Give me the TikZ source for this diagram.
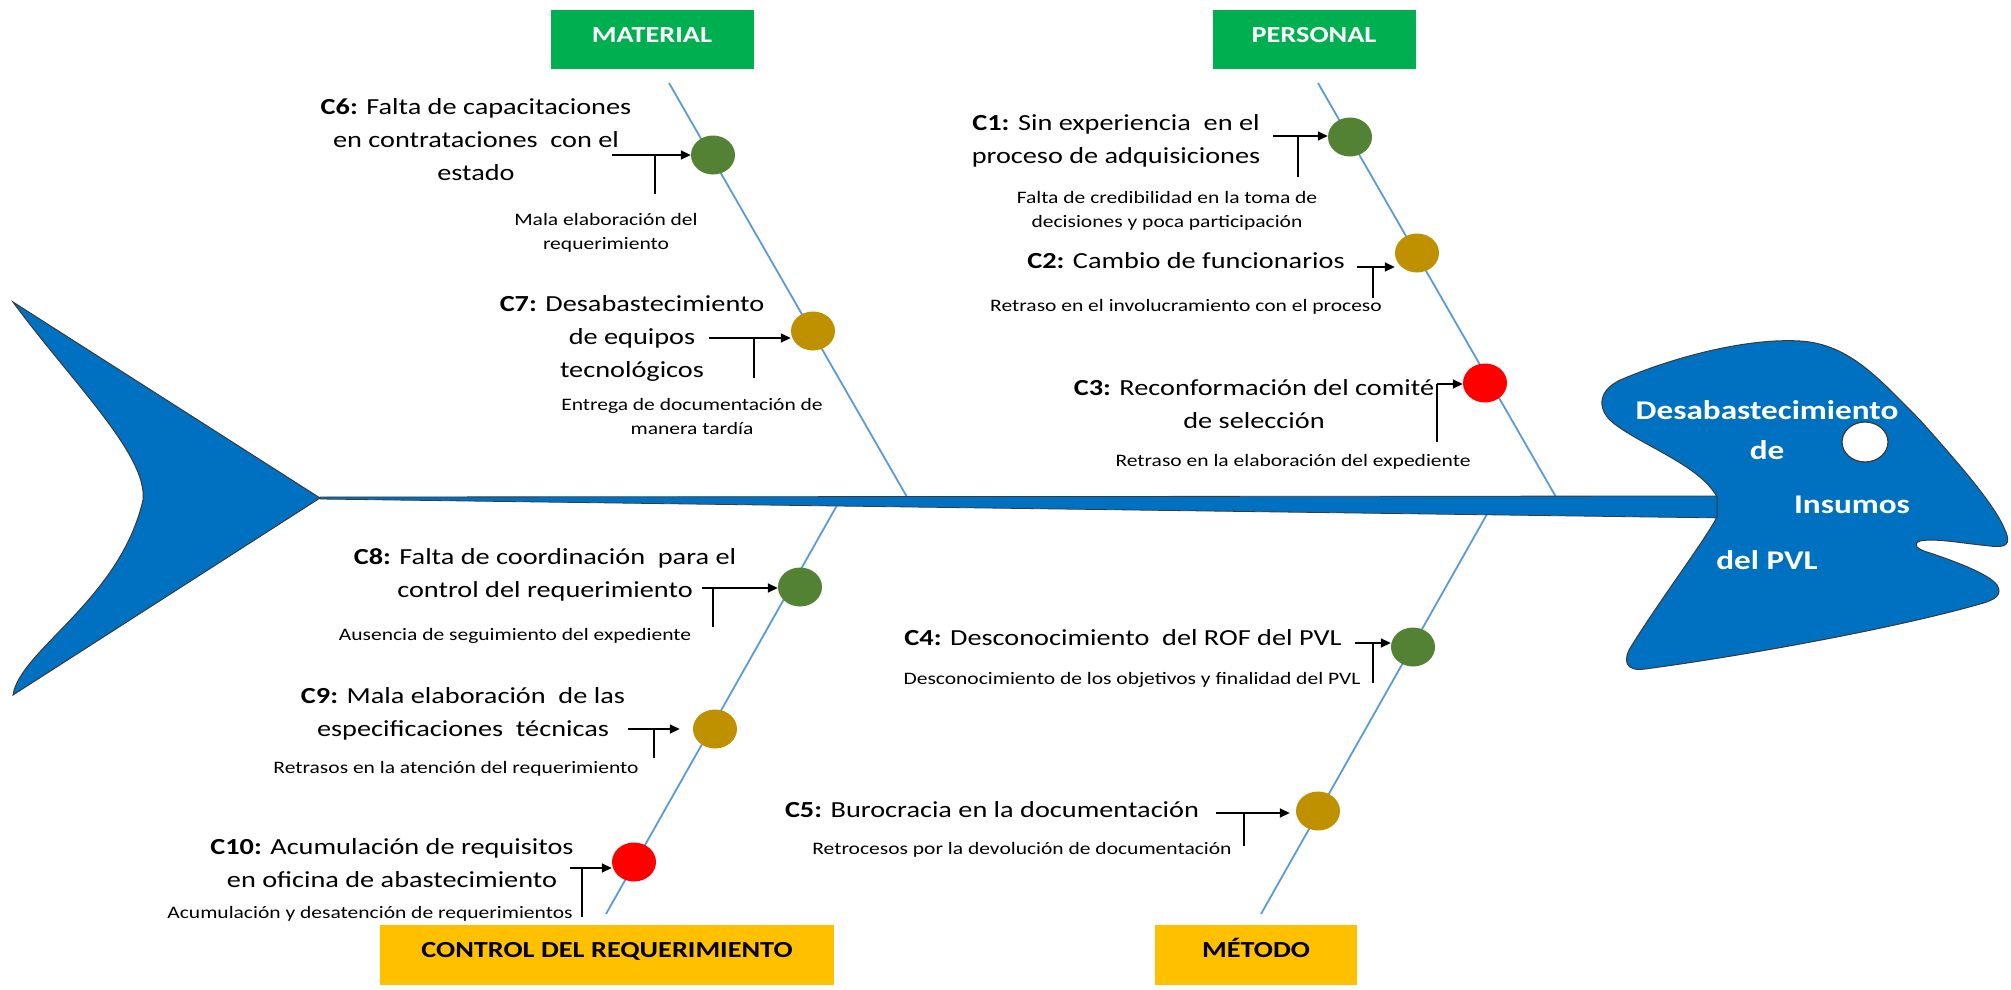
\documentclass[tikz,border=0pt]{standalone}
\usepackage{fontspec}
\setmainfont{Carlito}[FakeStretch=1.23]
\usetikzlibrary{arrows.meta,shapes.geometric}
\definecolor{fishblue}{HTML}{0070C0}
\definecolor{boneblue}{HTML}{5B9BD5}
\definecolor{cgreen}{HTML}{548235}
\definecolor{cgold}{HTML}{BF9000}
\definecolor{cred}{HTML}{FF0000}
\definecolor{boxgreen}{HTML}{00B050}
\definecolor{boxyellow}{HTML}{FFC000}
\definecolor{edgegray}{HTML}{3A3A3A}
\newcommand\mainsz{\fontsize{23}{33}\selectfont}
\newcommand\subsz{\fontsize{17.5}{24}\selectfont}
\newcommand\labsz{\fontsize{23}{28}\selectfont\bfseries}
\newcommand\headsz{\fontsize{27}{32}\selectfont\bfseries}
\tikzset{
  fishpart/.style={fill=fishblue, draw=edgegray, line width=1pt},
  bone/.style={draw=boneblue, line width=1.8pt},
  dot/.style={ellipse, minimum width=44pt, minimum height=39pt, inner sep=0pt},
  causetxt/.style={font=\mainsz, align=center, inner sep=0pt},
  subtxt/.style={font=\subsz, align=center, inner sep=0pt},
  arr/.style={-{Triangle[length=10pt,width=9pt]}, line width=1.6pt},
  tick/.style={line width=1.6pt},
  catbox/.style={rectangle, inner sep=0pt, minimum width=203pt, minimum height=59pt},
  cattxt/.style={font=\labsz, anchor=base, inner sep=0pt},
  headtxt/.style={font=\headsz, text=white, inner sep=0pt},
}
\begin{document}
\begin{tikzpicture}[x=1pt,y=-1pt]
\useasboundingbox (0,0) rectangle (2011,990);

% bones
\coordinate (mT) at (669,83);   \coordinate (mB) at (907,497);
\coordinate (pT) at (1318,83);  \coordinate (pB) at (1556,497);
\coordinate (cT) at (840,500);  \coordinate (cB) at (606,914);
\coordinate (eT) at (1495,500); \coordinate (eB) at (1261,914);
\draw[bone] (mT) -- (mB);
\draw[bone] (pT) -- (pB);
\draw[bone] (cT) -- (cB);
\draw[bone] (eT) -- (eB);

% spine
\path[fishpart, line width=0.8pt] (320,497) -- (1725,496) -- (1725,518) -- (320,499) -- cycle;

% tail
\path[fishpart] (13,302) -- (320,498) -- (13,695)
  .. controls (20,650) and (120,600) .. (143,500)
  .. controls (148,455) and (70,380) .. (13,302) -- cycle;

% head
\path[fishpart] (1717,497)
  .. controls (1700,465) and (1640,445) .. (1612,422)
  .. controls (1596,408) and (1598,388) .. (1625,378)
  .. controls (1680,355) and (1750,338) .. (1800,341)
  .. controls (1850,344) and (1880,380) .. (1920,420)
  .. controls (1960,465) and (1995,505) .. (2005,530)
  .. controls (2012,545) and (2005,548) .. (1990,546)
  .. controls (1960,543) and (1935,538) .. (1920,541)
  .. controls (1912,544) and (1916,549) .. (1930,553)
  .. controls (1960,563) and (1990,575) .. (1997,585)
  .. controls (2003,595) and (1995,600) .. (1980,604)
  .. controls (1900,627) and (1750,655) .. (1645,669)
  .. controls (1625,672) and (1622,660) .. (1632,645)
  .. controls (1660,600) and (1705,540) .. (1717,517)
  -- cycle;
\node[ellipse, draw=edgegray, fill=white, line width=1.2pt, minimum width=46pt, minimum height=40pt, inner sep=0pt] (eye) at (1865,442) {};
\node[headtxt] (h1) at (1767,410) {Desabastecimiento};
\node[headtxt] (h2) at (1767,450) {de};
\node[headtxt] (h3) at (1852,505) {Insumos};
\node[headtxt] (h4) at (1767,560) {del PVL};

% category boxes
\node[catbox, fill=boxgreen] (bmat) at (652,40) {};
\node[cattxt, text=white] (tmat) at (652,43) {MATERIAL};
\node[catbox, fill=boxgreen] (bper) at (1314,40) {};
\node[cattxt, text=white] (tper) at (1314,43) {PERSONAL};
\node[catbox, fill=boxyellow, minimum width=454pt, minimum height=60pt] (bcon) at (607,955) {};
\node[cattxt] (tcon) at (607,957) {CONTROL DEL REQUERIMIENTO};
\node[catbox, fill=boxyellow, minimum width=202pt, minimum height=60pt] (bmet) at (1256,955) {};
\node[cattxt] (tmet) at (1256,957) {MÉTODO};

% cause circles
\node[dot, fill=cgreen] (c6) at (713,155) {};
\node[dot, fill=cgold]  (c7) at (813,331) {};
\node[dot, fill=cgreen] (c1) at (1350,137) {};
\node[dot, fill=cgold]  (c2) at (1417,253) {};
\node[dot, fill=cred]   (c3) at (1485,383) {};
\node[dot, fill=cgreen] (c8) at (800,587) {};
\node[dot, fill=cgold]  (c9) at (715,729) {};
\node[dot, fill=cred]   (c10) at (634,862) {};
\node[dot, fill=cgreen] (c4) at (1413,647) {};
\node[dot, fill=cgold]  (c5) at (1318,811) {};

% connectors
\coordinate (a6) at (612,155);  \coordinate (v6) at (655,155);  \coordinate (w6) at (655,194);
\coordinate (a7) at (709,338);  \coordinate (v7) at (754,338);  \coordinate (w7) at (754,378);
\coordinate (a1) at (1273,136); \coordinate (v1) at (1298,136); \coordinate (w1) at (1298,177);
\coordinate (a2) at (1357,267); \coordinate (v2) at (1373,267); \coordinate (w2) at (1373,298);
\coordinate (a3) at (1437,384); \coordinate (w3) at (1437,442);
\coordinate (a8) at (702,588);  \coordinate (v8) at (713,588);  \coordinate (w8) at (713,627);
\coordinate (a9) at (628,729);  \coordinate (v9) at (654,729);  \coordinate (w9) at (654,758);
\coordinate (a10) at (570,868); \coordinate (v10) at (582,868); \coordinate (w10) at (582,917);
\coordinate (a4) at (1355,643); \coordinate (v4) at (1373,643); \coordinate (w4) at (1373,683);
\coordinate (a5) at (1216,813); \coordinate (v5) at (1244,813); \coordinate (w5) at (1244,846);

\draw[arr] (a6) -- (a6 -| c6.west);  \draw[tick] (v6) -- (w6);
\draw[arr] (a7) -- (a7 -| c7.west);  \draw[tick] (v7) -- (w7);
\draw[arr] (a1) -- (a1 -| c1.west);  \draw[tick] (v1) -- (w1);
\draw[arr] (a2) -- (a2 -| c2.west);  \draw[tick] (v2) -- (w2);
\draw[arr] (a3) -- (a3 -| c3.west);  \draw[tick] (a3) -- (w3);
\draw[arr] (a8) -- (a8 -| c8.west);  \draw[tick] (v8) -- (w8);
\draw[arr, shorten >=13pt] (a9) -- (a9 -| c9.west);  \draw[tick] (v9) -- (w9);
\draw[arr] (a10) -- (a10 -| c10.west); \draw[tick] (v10) -- (w10);
\draw[arr] (a4) -- (a4 -| c4.west);  \draw[tick] (v4) -- (w4);
\draw[arr, shorten >=6pt] (a5) -- (a5 -| c5.west);  \draw[tick] (v5) -- (w5);

% cause texts
\node[causetxt] (t6) at (476,140) {\textbf{C6:} Falta de capacitaciones\\en contrataciones~ con el\\estado};
\node[subtxt] (s6) at (606,233) {Mala elaboración del\\requerimiento};
\node[causetxt] (t7) at (632,338) {\textbf{C7:} Desabastecimiento\\de equipos\\tecnológicos};
\node[subtxt] (s7) at (692,416) {Entrega de documentación de\\manera tardía};
\node[causetxt] (t1) at (1116,141) {\textbf{C1:} Sin experiencia~ en el\\proceso de adquisiciones};
\node[subtxt] (s1) at (1167,211) {Falta de credibilidad en la toma de\\decisiones y poca participación};
\node[causetxt] (t2) at (1186,261) {\textbf{C2:} Cambio de funcionarios};
\node[subtxt] (s2) at (1186,307) {Retraso en el involucramiento con el proceso};
\node[causetxt] (t3) at (1254,404) {\textbf{C3:} Reconformación del comité\\de selección};
\node[subtxt] (s3) at (1293,462) {Retraso en la elaboración del expediente};
\node[causetxt] (t8) at (545,575) {\textbf{C8:} Falta de coordinación~ para el\\control del requerimiento};
\node[subtxt] (s8) at (515,636) {Ausencia de seguimiento del expediente};
\node[causetxt] (t9) at (463,714) {\textbf{C9:} Mala elaboración~ de las\\especificaciones~ técnicas};
\node[subtxt] (s9) at (456,769) {Retrasos en la atención del requerimiento};
\node[causetxt] (t10) at (392,863) {\textbf{C10:} Acumulación de requisitos\\en oficina de abastecimiento};
\node[subtxt] (s10) at (370,914) {Acumulación y desatención de requerimientos};
\node[causetxt] (t4) at (1123,638) {\textbf{C4:} Desconocimiento~ del ROF del PVL};
\node[subtxt] (s4) at (1132,680) {Desconocimiento de los objetivos y finalidad del PVL};
\node[causetxt] (t5) at (992,810) {\textbf{C5:} Burocracia en la documentación};
\node[subtxt] (s5) at (1022,850) {Retrocesos por la devolución de documentación};
\end{tikzpicture}
\end{document}
